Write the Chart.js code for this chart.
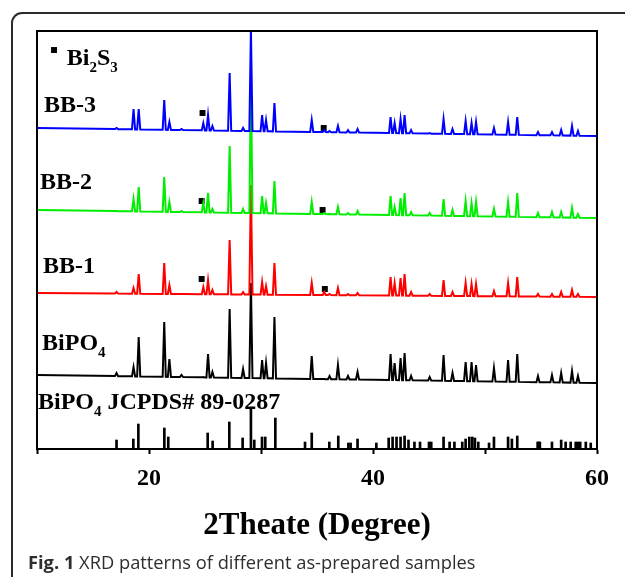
<!DOCTYPE html>
<html>
<head>
<meta charset="utf-8">
<script src="https://cdn.jsdelivr.net/npm/chart.js@4.4.0/dist/chart.umd.min.js"></script>
<style>
  html, body { margin: 0; padding: 0; background: #fff; overflow: hidden; }
  body { width: 625px; height: 577px; position: relative; }
  #wrap { position: absolute; left: 0; top: 0; width: 625px; height: 577px; }
  #caption { position: absolute; left: 28px; top: 549px; font: 18.3px 'Open Sans', sans-serif; color: #2e2e2e; white-space: nowrap; }
  #caption b { font-weight: 700; }
</style>
</head>
<body>
<div id="wrap"><canvas id="xrdChart"></canvas></div>
<div id="caption"><b>Fig. 1</b> XRD patterns of different as-prepared samples</div>
<script>
// Peak positions (2θ) shared by all measured patterns
const peakPositions = [17.1, 18.62, 19.08, 21.36, 21.82, 22.9, 24.85, 25.27, 25.66, 27.2,
  28.4, 29.1, 30.1, 30.45, 31.2, 34.53, 35.65, 36.12, 36.87, 37.77,
  38.62, 41.57, 41.93, 42.46, 42.82, 43.4, 45.06, 46.3, 47.1, 48.27,
  48.8, 49.2, 50.8, 52.06, 52.88, 54.73, 55.98, 56.8, 57.77, 58.3];

// Peak tops per sample (offset intensity, a.u.)
const bipo4Tops = [76, 82, 112, 127, 90, 74, 72, 95, 77, 140,
  80, 166, 89, 86, 132, 93, 70, 73, 84, 73,
  77, 95, 86, 91, 96, 73, 72, 94, 76, 87,
  87, 84, 81, 89, 95, 73, 74, 76, 78, 73];
const bb1Tops = [157, 161, 175, 186, 164, 155, 162, 169, 159, 209,
  157, 264, 167, 163, 186, 166, 157, 155, 161, 155,
  156, 172, 166, 171, 175, 157, 155, 169, 157, 166,
  165, 165, 158, 166, 172, 155, 155, 157, 159, 155];
const bb2Tops = [238, 250, 262, 272, 247, 238, 246, 256, 240, 303,
  240, 367, 253, 246, 268, 247, 236, 235, 242, 236,
  238, 253, 242, 251, 256, 237, 236, 250, 239, 248,
  246, 247, 240, 247, 256, 236, 237, 237, 241, 235];
const bb3Tops = [321, 340, 340, 349, 327, 320, 326, 334, 323, 376,
  321, 420, 334, 329, 346, 329, 319, 318, 323, 319,
  320, 332, 326, 330, 334, 319, 316, 330, 320, 328,
  326, 327, 321, 327, 332, 317, 317, 319, 323, 318];

// Background level at 10° and 60°
const bipo4Base = [74, 66];
const bb1Base = [156, 152];
const bb2Base = [239, 231];
const bb3Base = [321, 313];

// Standard card lines, BiPO4 JCPDS# 89-0287
const stickPositions = [17.1, 18.6, 19.05, 21.37, 21.72, 25.24, 25.68, 27.17, 28.36, 29.1,
  29.4, 30.09, 30.38, 31.28, 33.93, 34.53, 36.1, 36.9, 37.8, 38.0,
  38.62, 40.3, 41.4, 41.75, 42.1, 42.46, 42.82, 43.17, 43.7, 44.2,
  45.0, 45.2, 46.3, 46.84, 47.27, 47.97, 48.27, 48.6, 48.87, 49.1,
  49.4, 50.36, 50.8, 52.06, 52.4, 52.88, 54.7, 54.8, 54.9, 55.98,
  56.8, 57.2, 57.65, 58.1, 58.3, 58.5, 59.0, 59.44];
const stickHeights = [9, 10, 25, 21, 12, 16, 8, 27, 11, 41,
  9, 12, 12, 31, 7, 16, 7, 13, 6, 6,
  10, 6, 11, 12, 12, 12, 13, 9, 7, 7,
  7, 7, 12, 7, 7, 7, 10, 12, 12, 11,
  7, 6, 12, 12, 10, 13, 7, 7, 7, 7,
  9, 7, 7, 7, 7, 7, 7, 6];

// Bi2S3 reflections marked on each pattern [2θ, level]
const bb3Marks = [[24.78, 336], [35.6, 321]];
const bb2Marks = [[24.7, 248], [35.5, 239]];
const bb1Marks = [[24.7, 170], [35.7, 160]];
const keyMark = [[11.52, 399]];

const tickLabels = [20, 40, 60];

const PEAK_HALF_WIDTH = 0.14;

function buildPattern(tops, base) {
  const baseAt = x => base[0] + (base[1] - base[0]) * (x - 10) / 50;
  const pts = [{ x: 10, y: base[0] }];
  peakPositions.forEach((p, i) => {
    pts.push({ x: p - PEAK_HALF_WIDTH, y: baseAt(p - PEAK_HALF_WIDTH) });
    pts.push({ x: p, y: tops[i] });
    pts.push({ x: p + PEAK_HALF_WIDTH, y: baseAt(p + PEAK_HALF_WIDTH) });
  });
  pts.push({ x: 60, y: base[1] });
  return pts;
}

const toPoints = arr => arr.map(([x, y]) => ({ x, y }));

const SERIF = '"Liberation Serif", "Times New Roman", serif';

// text labels beside each pattern; [text, subscript?]
const patternLabels = [
  { segs: [['BB-3', false]], x: 10.62, y: 337 },
  { segs: [['BB-2', false]], x: 10.27, y: 260 },
  { segs: [['BB-1', false]], x: 10.54, y: 176 },
  { segs: [['BiPO', false], ['4', true]], x: 10.45, y: 99 },
  { segs: [['BiPO', false], ['4', true], [' JCPDS# 89-0287', false]], x: 10.09, y: 40 },
  { segs: [['Bi', false], ['2', true], ['S', false], ['3', true]], x: 12.66, y: 384 }
];

// rounded panel outline behind the figure (open to the right and bottom)
const panelPlugin = {
  id: 'panel',
  beforeDraw(chart) {
    const { ctx, width, height } = chart;
    ctx.save();
    ctx.strokeStyle = '#2b2b2b';
    ctx.lineWidth = 2;
    ctx.beginPath();
    ctx.moveTo(12, height + 2);
    ctx.lineTo(12, 23);
    ctx.arcTo(12, 13, 22, 13, 10);
    ctx.lineTo(width + 2, 13);
    ctx.stroke();
    ctx.restore();
  }
};

const labelPlugin = {
  id: 'patternLabels',
  afterDatasetsDraw(chart) {
    const { ctx, scales: { x, y } } = chart;
    ctx.save();
    ctx.fillStyle = '#000';
    ctx.textBaseline = 'alphabetic';
    ctx.textAlign = 'left';
    patternLabels.forEach(lbl => {
      let px = x.getPixelForValue(lbl.x);
      const py = y.getPixelForValue(lbl.y);
      lbl.segs.forEach(([t, sub]) => {
        ctx.font = sub ? 'bold 15px ' + SERIF : 'bold 24px ' + SERIF;
        ctx.fillText(t, px, sub ? py + 7 : py);
        px += ctx.measureText(t).width;
      });
    });
    // plot box
    const a = chart.chartArea;
    ctx.strokeStyle = '#000';
    ctx.lineWidth = 2;
    ctx.strokeRect(a.left, a.top, a.right - a.left, a.bottom - a.top);
    ctx.restore();
  }
};

const markStyle = {
  type: 'scatter',
  pointStyle: 'rect',
  pointRadius: 4.2,
  backgroundColor: '#000',
  borderWidth: 0
};

const lineStyle = { borderWidth: 2, pointRadius: 0, tension: 0, fill: false };

new Chart(document.getElementById('xrdChart'), {
  type: 'line',
  data: {
    datasets: [
      { label: 'BB-3', data: buildPattern(bb3Tops, bb3Base), borderColor: '#0000ff', ...lineStyle },
      { label: 'BB-2', data: buildPattern(bb2Tops, bb2Base), borderColor: '#00ee00', ...lineStyle },
      { label: 'BB-1', data: buildPattern(bb1Tops, bb1Base), borderColor: '#ff0000', ...lineStyle },
      { label: 'BiPO4', data: buildPattern(bipo4Tops, bipo4Base), borderColor: '#000000', ...lineStyle },
      {
        type: 'bar', label: 'JCPDS 89-0287',
        data: stickPositions.map((x, i) => ({ x, y: stickHeights[i] })),
        backgroundColor: '#000', barThickness: 2, grouped: false
      },
      { label: 'Bi2S3 BB-3', data: toPoints(bb3Marks), ...markStyle },
      { label: 'Bi2S3 BB-2', data: toPoints(bb2Marks), ...markStyle },
      { label: 'Bi2S3 BB-1', data: toPoints(bb1Marks), ...markStyle },
      { label: 'Bi2S3', data: toPoints(keyMark), ...markStyle }
    ]
  },
  options: {
    responsive: true,
    maintainAspectRatio: false,
    animation: false,
    layout: { padding: { top: 31, right: 28, left: 37, bottom: 0 } },
    plugins: { legend: { display: false }, tooltip: { enabled: false } },
    scales: {
      x: {
        type: 'linear',
        min: 10,
        max: 60,
        offset: false,
        afterFit: s => { s.height = 128; },
        ticks: {
          stepSize: 10,
          color: '#000',
          padding: 10,
          maxRotation: 0,
          font: { family: SERIF, size: 24, weight: 'bold' },
          callback: v => tickLabels.includes(v) ? String(v) : ''
        },
        grid: { offset: false, drawOnChartArea: false, drawTicks: true, tickLength: 5, tickColor: '#000', tickWidth: 2 },
        border: { display: true, color: '#000', width: 2 },
        title: {
          display: true,
          text: '2Theate (Degree)',
          color: '#000',
          font: { family: SERIF, size: 31, weight: 'bold' },
          padding: { top: 0, bottom: 32 }
        }
      },
      y: { display: false, min: 0, max: 418 }
    }
  },
  plugins: [panelPlugin, labelPlugin]
});
</script>
</body>
</html>
